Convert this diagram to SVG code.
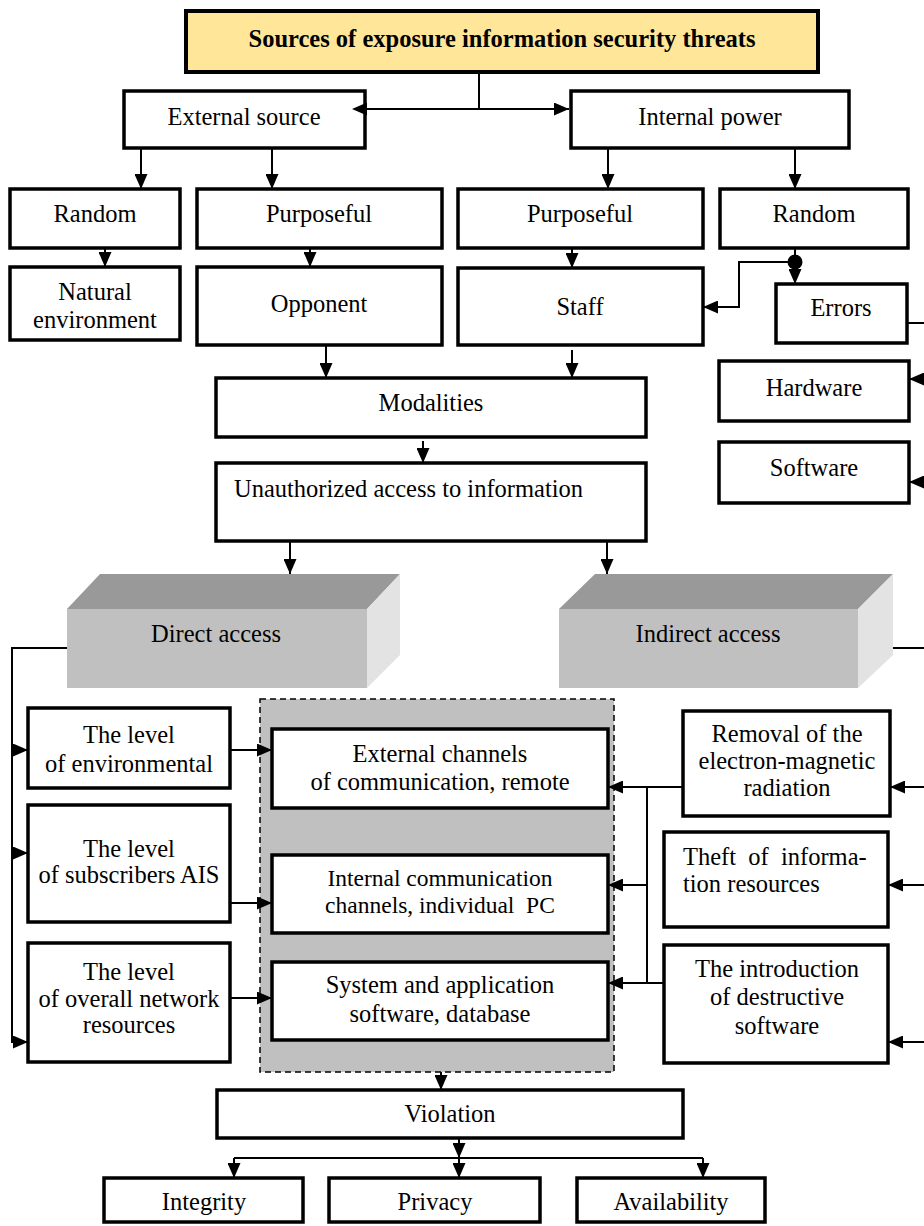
<svg xmlns="http://www.w3.org/2000/svg" width="924" height="1226" viewBox="0 0 924 1226">
<defs>
<style>
.box{fill:#fff;stroke:#000;stroke-width:3.5}
.t{font-family:"Liberation Serif","Times New Roman",serif;font-size:24.5px;fill:#000;text-anchor:middle}
.ts{font-size:23.5px}
.ln{fill:none;stroke:#000;stroke-width:2}
.ar{fill:none;stroke:#000;stroke-width:2;marker-end:url(#ah)}
</style>
<marker id="ah" viewBox="0 0 15 13" refX="15" refY="6.5" markerWidth="15" markerHeight="13" markerUnits="userSpaceOnUse" orient="auto">
<path d="M0,0 L15,6.5 L0,13 Z" fill="#000"/>
</marker>
<marker id="ahs" viewBox="0 0 15 13" refX="0" refY="6.5" markerWidth="15" markerHeight="13" markerUnits="userSpaceOnUse" orient="auto-start-reverse">
<path d="M0,0 L15,6.5 L0,13 Z" fill="#000"/>
</marker>
</defs>
<rect width="924" height="1226" fill="#fff"/>

<g id="title">
<rect x="186" y="11" width="632" height="61" fill="#FFE699" stroke="#000" stroke-width="4"/>
<text class="t" x="502" y="47" font-weight="bold" style="font-size:24.5px">Sources of exposure information security threats</text>
</g>
<g id="external-source"><rect class="box" x="124" y="91" width="241" height="57"/><text class="t" x="244" y="125">External source</text></g>
<g id="internal-power"><rect class="box" x="571" y="91" width="278" height="57"/><text class="t" x="710" y="125">Internal power</text></g>

<g id="random-ext"><rect class="box" x="10" y="189" width="170" height="59"/><text class="t" x="95" y="222">Random</text></g>
<g id="purposeful-ext"><rect class="box" x="197" y="189" width="245" height="59"/><text class="t" x="319" y="222">Purposeful</text></g>
<g id="purposeful-int"><rect class="box" x="458" y="189" width="245" height="59"/><text class="t" x="580" y="222">Purposeful</text></g>
<g id="random-int"><rect class="box" x="720" y="189" width="188" height="59"/><text class="t" x="814" y="222">Random</text></g>

<g id="natural"><rect class="box" x="10" y="267" width="170" height="73"/><text class="t" x="95" y="300">Natural</text><text class="t" x="95" y="328">environment</text></g>
<g id="opponent"><rect class="box" x="197" y="267" width="245" height="78"/><text class="t" x="319" y="312">Opponent</text></g>
<g id="staff"><rect class="box" x="458" y="268" width="245" height="77"/><text class="t" x="580" y="315">Staff</text></g>
<g id="errors"><rect class="box" x="776" y="284" width="131" height="59"/><text class="t" x="841" y="316">Errors</text></g>
<g id="hardware"><rect class="box" x="719" y="361" width="190" height="60"/><text class="t" x="814" y="396">Hardware</text></g>
<g id="software"><rect class="box" x="719" y="442" width="190" height="61"/><text class="t" x="814" y="476">Software</text></g>

<g id="modalities"><rect class="box" x="216" y="378" width="430" height="59"/><text class="t" x="431" y="411">Modalities</text></g>
<g id="unauthorized"><rect class="box" x="216" y="463" width="430" height="78"/><text class="t" x="234" y="497" style="text-anchor:start">Unauthorized access to information</text></g>

<g id="direct-access">
<polygon points="67,609 100,574 400,574 367,609" fill="#999"/>
<polygon points="367,609 400,574 400,655 367,688" fill="#E3E3E3"/>
<rect x="67" y="609" width="300" height="79" fill="#C0C0C0"/>
<text class="t" x="216" y="642">Direct access</text>
</g>
<g id="indirect-access">
<polygon points="559,609 595,574 893,574 858,609" fill="#999"/>
<polygon points="858,609 893,574 893,655 858,688" fill="#E3E3E3"/>
<rect x="559" y="609" width="299" height="79" fill="#C0C0C0"/>
<text class="t" x="708" y="642">Indirect access</text>
</g>

<g id="objects-area"><rect x="260" y="699" width="354" height="373" fill="#C0C0C0" stroke="#000" stroke-width="1.5" stroke-dasharray="6,4"/></g>

<g id="level-env"><rect class="box" x="28" y="708" width="202" height="80"/><text class="t" x="129" y="743">The level</text><text class="t" x="129" y="772">of environmental</text></g>
<g id="level-subs"><rect class="box" x="28" y="805" width="202" height="117"/><text class="t" x="129" y="857">The level</text><text class="t" x="129" y="883">of subscribers AIS</text></g>
<g id="level-network"><rect class="box" x="28" y="943" width="202" height="119"/><text class="t" x="129" y="980">The level</text><text class="t" x="129" y="1007">of overall network</text><text class="t" x="129" y="1033">resources</text></g>

<g id="external-channels"><rect class="box" x="272" y="729" width="336" height="79"/><text class="t" x="440" y="762">External channels</text><text class="t" x="440" y="790">of communication, remote</text></g>
<g id="internal-channels"><rect class="box" x="272" y="855" width="336" height="78"/><text class="t ts" x="440" y="886">Internal communication</text><text class="t ts" x="440" y="913" style="white-space:pre">channels, individual  PC</text></g>
<g id="system-software"><rect class="box" x="272" y="962" width="336" height="78"/><text class="t" x="440" y="993">System and application</text><text class="t" x="440" y="1022">software, database</text></g>

<g id="removal"><rect class="box" x="683" y="711" width="207" height="105"/><text class="t" x="787" y="742">Removal of the</text><text class="t" x="787" y="769">electron-magnetic</text><text class="t" x="787" y="796">radiation</text></g>
<g id="theft"><rect class="box" x="664" y="832" width="224" height="95"/><text class="t" x="683" y="865" style="text-anchor:start;white-space:pre">Theft  of  informa-</text><text class="t" x="683" y="892" style="text-anchor:start">tion resources</text></g>
<g id="introduction"><rect class="box" x="664" y="945" width="224" height="118"/><text class="t" x="777" y="977">The introduction</text><text class="t" x="777" y="1005">of destructive</text><text class="t" x="777" y="1034">software</text></g>

<g id="violation"><rect class="box" x="217" y="1090" width="466" height="48"/><text class="t" x="450" y="1122">Violation</text></g>
<g id="integrity"><rect class="box" x="104" y="1178" width="199" height="44"/><text class="t" x="204" y="1210">Integrity</text></g>
<g id="privacy"><rect class="box" x="329" y="1178" width="211" height="44"/><text class="t" x="435" y="1210">Privacy</text></g>
<g id="availability"><rect class="box" x="577" y="1178" width="188" height="44"/><text class="t" x="671" y="1210">Availability</text></g>

<g id="connectors">
<path class="ln" d="M479,72 V109"/>
<path class="ln" d="M367,109 H569" marker-start="url(#ahs)" marker-end="url(#ah)"/>
<path class="ar" d="M141,148 V189"/>
<path class="ar" d="M272,148 V189"/>
<path class="ar" d="M608,148 V189"/>
<path class="ar" d="M795,148 V189"/>
<path class="ar" d="M105,248 V267"/>
<path class="ar" d="M310,248 V267"/>
<path class="ar" d="M572,248 V268"/>
<path class="ar" d="M795,248 V284"/>
<circle cx="795" cy="262" r="7.5" fill="#000"/>
<path class="ar" d="M795,262 H739 V307 H703"/>
<path class="ln" d="M907,323 H924"/>
<path class="ar" d="M924,379 H909"/>
<path class="ar" d="M924,482 H909"/>
<path class="ar" d="M326,345 V378"/>
<path class="ar" d="M572,350 V378"/>
<path class="ar" d="M423,441 V463"/>
<path class="ar" d="M290,541 V574"/>
<path class="ar" d="M607,541 V574"/>
<path class="ar" d="M67,648 H12 V1042 H28"/>
<path class="ar" d="M12,750 H28"/>
<path class="ar" d="M12,853 H28"/>
<path class="ar" d="M230,750 H272"/>
<path class="ar" d="M230,903 H272"/>
<path class="ar" d="M230,998 H272"/>
<path class="ln" d="M893,648 H924"/>
<path class="ar" d="M924,787 H890"/>
<path class="ar" d="M924,885 H888"/>
<path class="ar" d="M924,1042 H888"/>
<path class="ar" d="M683,787 H608"/>
<path class="ln" d="M647,787 V984"/>
<path class="ar" d="M647,885 H608"/>
<path class="ar" d="M664,983 H608"/>
<path class="ar" d="M441,1072 V1090"/>
<path class="ar" d="M459,1138 V1158"/>
<path class="ln" d="M234,1158 H703"/>
<path class="ar" d="M234,1158 V1178"/>
<path class="ar" d="M459,1158 V1178"/>
<path class="ar" d="M703,1158 V1178"/>
</g>
</svg>
